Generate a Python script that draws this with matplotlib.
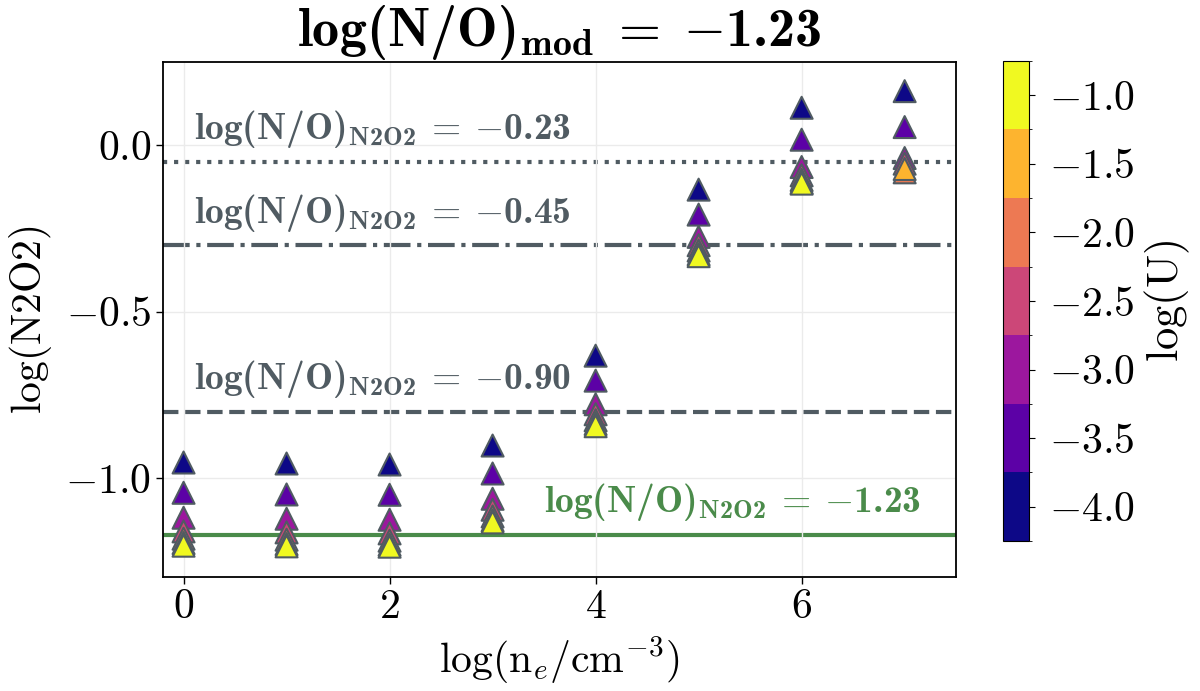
import numpy as np
import matplotlib
matplotlib.use("Agg")
import matplotlib.pyplot as plt
from matplotlib.colors import BoundaryNorm

# ─── DATA ──────────────────────────────────────────────────────────────────
log_ne = [0, 1, 2, 3, 4, 5, 6, 7]
log_U  = [-4.0, -3.5, -3.0, -2.5, -2.0, -1.5, -1.0]

# log(N2O2) for each log(U), one value per log(ne)
n2o2 = {
    -4.0: [-0.953, -0.956, -0.959, -0.902, -0.632, -0.133,  0.113,  0.163],
    -3.5: [-1.044, -1.049, -1.050, -0.986, -0.707, -0.208,  0.017,  0.055],
    -3.0: [-1.119, -1.122, -1.125, -1.062, -0.778, -0.275, -0.065, -0.038],
    -2.5: [-1.160, -1.163, -1.166, -1.095, -0.808, -0.300, -0.090, -0.055],
    -2.0: [-1.182, -1.185, -1.188, -1.115, -0.826, -0.316, -0.104, -0.081],
    -1.5: [-1.195, -1.198, -1.200, -1.127, -0.837, -0.327, -0.112, -0.071],
    -1.0: [-1.203, -1.205, -1.206, -1.133, -0.844, -0.333, -0.115, np.nan],
}

# reference lines: log(N2O2) level and the N/O label it stands for
ref_levels = [-0.05, -0.30, -0.80, -1.17]
ref_labels = ["-0.23", "-0.45", "-0.90", "-1.23"]
ref_styles = [":", "-.", "--", "-"]
no_mod = "-1.23"
# ────────────────────────────────────────────────────────────────────────────

plt.rcParams["font.family"] = "serif"
plt.rcParams["font.serif"] = ["cmr10"]
plt.rcParams["mathtext.fontset"] = "cm"
plt.rcParams["axes.formatter.use_mathtext"] = True
plt.rcParams["axes.unicode_minus"] = True
# bold Computer Modern for the annotation texts (used via math_fontfamily)
plt.rcParams["mathtext.rm"] = "cmr10"
plt.rcParams["mathtext.it"] = "cmmi10"
plt.rcParams["mathtext.bf"] = "cmb10"
plt.rcParams["mathtext.fallback"] = "cm"

GRAY  = "#505b62"
GREEN = "#4a8b4a"


def bold_label(sub, val, sp=r"\;"):
    return (r"$\mathbf{log(N/O)}_{\mathbf{%s}}%s=%s\mathbf{%s}$"
            % (sub, sp, sp, val))


fig = plt.figure(figsize=(12, 6.91), dpi=100)
ax  = fig.add_axes([0.1358, 0.165, 0.661, 0.745])
cax = fig.add_axes([0.836, 0.217, 0.0217, 0.695])

cmap = plt.get_cmap("plasma", len(log_U))
bounds = np.arange(-4.25, -0.74, 0.5)
norm = BoundaryNorm(bounds, cmap.N)

ax.grid(True, color="#ebebeb", lw=1, zorder=0)

# horizontal reference lines + labels
label_x = [0.1, 0.1, 0.1, 3.5]
for lev, lab, ls, lx in zip(ref_levels, ref_labels, ref_styles, label_x):
    col = GREEN if ls == "-" else GRAY
    ax.axhline(lev, color=col, ls=ls, lw=3, zorder=1)
    ax.text(lx, lev + 0.035, bold_label("N2O2", lab, r"\:"),
            math_fontfamily="custom",
            color=col, fontsize=27, va="bottom", ha="left", zorder=2)

for u in log_U:
    sc = ax.scatter(log_ne, n2o2[u], c=[u] * len(log_ne), cmap=cmap, norm=norm,
                    marker="^", s=250, edgecolors=GRAY, linewidths=1.5, zorder=3)

ax.set_xlim(-0.2, 7.5)
ax.set_ylim(-1.297, 0.25)
ax.set_xticks([0, 2, 4, 6])
ax.set_yticks([0.0, -0.5, -1.0])
ax.yaxis.set_major_formatter(plt.FormatStrFormatter(r"$%.1f$"))
ax.xaxis.set_major_formatter(plt.FormatStrFormatter(r"$%d$"))
ax.tick_params(labelsize=30, length=5, width=1)
for s in ax.spines.values():
    s.set_linewidth(1.3)

ax.set_xlabel(r"$\log(\mathrm{n}_e/\mathrm{cm}^{-3})$", fontsize=30, labelpad=6)
ax.set_ylabel(r"$\log(\mathrm{N2O2})$", fontsize=30, labelpad=8)
ax.set_title(bold_label("mod", no_mod), math_fontfamily="custom",
             fontsize=39, pad=5)

cb = fig.colorbar(sc, cax=cax, ticks=log_U)
cb.ax.yaxis.set_major_formatter(plt.FormatStrFormatter(r"$%.1f$"))
cb.ax.tick_params(labelsize=30, length=4, pad=10)
cb.set_label(r"$\log(\mathrm{U})$", fontsize=32, labelpad=6)

fig.savefig("out.png", dpi=100)
